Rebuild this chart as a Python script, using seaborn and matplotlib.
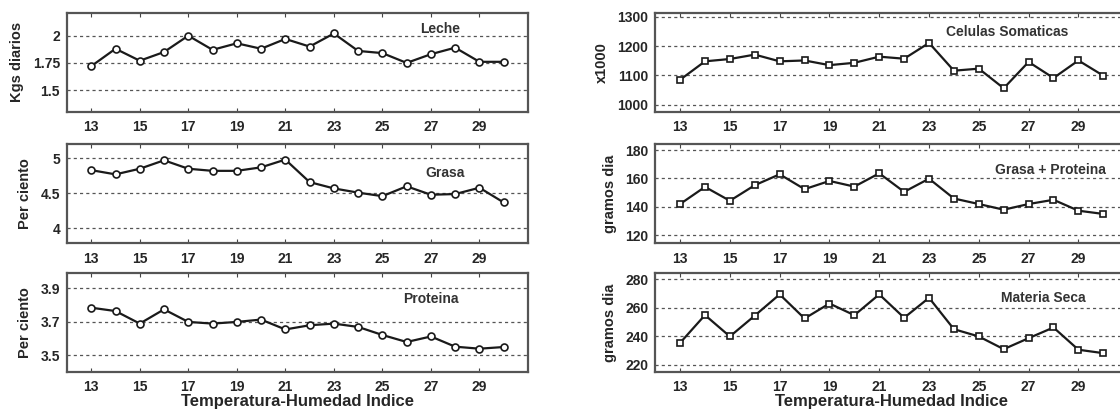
import numpy as np
import pandas as pd
import matplotlib
matplotlib.use("Agg")
import matplotlib.pyplot as plt
import seaborn as sns

sns.set_style("white")
plt.rcParams['font.family'] = ['Liberation Sans Narrow', 'Liberation Sans', 'DejaVu Sans']
plt.rcParams['font.weight'] = 'bold'

# Temperatura-Humedad Indice (ITH)
thi = list(range(13, 31))

leche = [1.72, 1.88, 1.77, 1.85, 2.00, 1.87, 1.93, 1.88, 1.97, 1.90,
         2.02, 1.86, 1.84, 1.75, 1.83, 1.89, 1.76, 1.76]
grasa = [4.83, 4.77, 4.85, 4.97, 4.85, 4.82, 4.82, 4.87, 4.98, 4.66,
         4.57, 4.51, 4.46, 4.60, 4.48, 4.49, 4.58, 4.37]
proteina = [3.785, 3.765, 3.69, 3.775, 3.70, 3.69, 3.70, 3.714, 3.655, 3.68,
            3.69, 3.67, 3.622, 3.58, 3.613, 3.552, 3.54, 3.55]
celulas = [1085, 1148, 1156, 1171, 1148, 1151, 1135, 1143, 1164, 1157,
           1211, 1116, 1123, 1056, 1146, 1091, 1151, 1099]
grasa_prot = [141.9, 154.0, 144.2, 155.2, 162.9, 152.4, 158.2, 154.2, 163.6, 150.5,
              159.8, 145.8, 141.9, 137.9, 141.9, 144.9, 137.2, 134.9]
materia_seca = [235.5, 255.0, 240.0, 254.6, 269.5, 252.6, 263.1, 254.9, 269.5, 253.1,
                267.1, 245.1, 240.0, 231.1, 238.8, 246.3, 230.7, 228.3]

x_ticks = [13, 15, 17, 19, 21, 23, 25, 27, 29]

panels = [
    # values, title, ylabel, yticks, yticklabels, ylim, marker, rect, text pos
    (leche, 'Leche', 'Kgs diarios', [1.5, 1.75, 2], ['1.5', '1.75', '2'], (1.30, 2.21), 'o',
     [0.0598, 0.729, 0.4116, 0.240], (0.81, 0.84)),
    (grasa, 'Grasa', 'Per ciento', [4, 4.5, 5], ['4', '4.5', '5'], (3.79, 5.2), 'o',
     [0.0598, 0.411, 0.4116, 0.240], (0.82, 0.71)),
    (proteina, 'Proteina', 'Per ciento', [3.5, 3.7, 3.9], ['3.5', '3.7', '3.9'], (3.40, 3.99), 'o',
     [0.0598, 0.099, 0.4116, 0.239], (0.79, 0.74)),
    (celulas, 'Celulas Somaticas', 'x1000', [1000, 1100, 1200, 1300],
     ['1000', '1100', '1200', '1300'], (975, 1314), 's',
     [0.585, 0.729, 0.4223, 0.240], (0.745, 0.81)),
    (grasa_prot, 'Grasa + Proteina', 'gramos dia', [120, 140, 160, 180],
     ['120', '140', '160', '180'], (114.2, 184.2), 's',
     [0.585, 0.411, 0.4223, 0.240], (0.835, 0.74)),
    (materia_seca, 'Materia Seca', 'gramos dia', [220, 240, 260, 280],
     ['220', '240', '260', '280'], (215.3, 284.2), 's',
     [0.585, 0.100, 0.4223, 0.238], (0.82, 0.75)),
]

fig = plt.figure(figsize=(11.2, 4.13), dpi=100)

for i, (vals, title, ylab, yt, ytl, ylim, mk, rect, tpos) in enumerate(panels):
    ax = fig.add_axes(rect)
    df = pd.DataFrame({'thi': thi, 'val': vals})
    for y in yt:
        ax.axhline(y, color='#555555', lw=0.9, ls=(0, (2.5, 2.5)), zorder=0)
    sns.lineplot(data=df, x='thi', y='val', ax=ax, color='#1a1a1a', lw=1.6,
                 marker=mk, markersize=5, markerfacecolor='white',
                 markeredgecolor='#1a1a1a', markeredgewidth=1.2)
    ax.set_xlim(12, 31)
    ax.set_ylim(*ylim)
    ax.set_xticks(x_ticks)
    ax.set_xticklabels([str(t) for t in x_ticks], fontsize=10, fontweight='bold')
    ax.set_yticks(yt)
    ax.set_yticklabels(ytl, fontsize=10, fontweight='bold')
    ax.tick_params(axis='x', direction='in', length=3, top=True, bottom=True,
                   pad=6, color='#444444')
    ax.tick_params(axis='y', length=0, pad=5)
    for s in ax.spines.values():
        s.set_color('#555555')
        s.set_linewidth(1.6)
    ax.set_xlabel('')
    if i < 3:
        ax.set_ylabel(ylab, fontsize=10.5, fontweight='bold', labelpad=6)
    else:
        ax.set_ylabel(ylab, fontsize=10.5, fontweight='bold', labelpad=6)
    ax.text(tpos[0], tpos[1], title, transform=ax.transAxes, ha='center', va='center',
            fontsize=10, fontweight='bold', color='#333333',
            family=['Liberation Sans', 'DejaVu Sans'])
    if i in (2, 5):
        ax.set_xlabel('Temperatura-Humedad Indice', fontsize=12, fontweight='bold',
                      labelpad=0, family=['Liberation Sans', 'DejaVu Sans'])

fig.savefig('out.png', dpi=100)
